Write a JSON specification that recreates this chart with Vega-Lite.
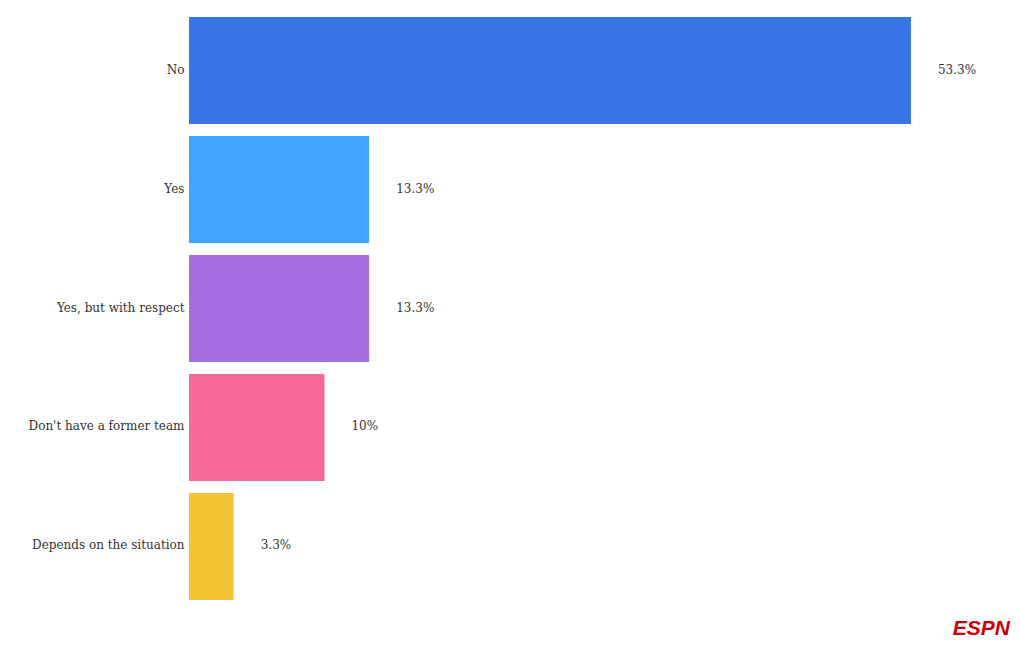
{
  "$schema": "https://vega.github.io/schema/vega-lite/v6.json",
  "autosize": "none",
  "width": 821,
  "height": 583,
  "padding": {"left": 189, "top": 17, "right": 10, "bottom": 50},
  "background": "white",
  "config": {"view": {"stroke": null}},
  "title": {
    "text": "ESPN",
    "orient": "bottom",
    "anchor": "end",
    "font": "Liberation Sans",
    "fontSize": 21,
    "fontWeight": "bold",
    "fontStyle": "italic",
    "color": "#cc0000",
    "offset": 18
  },
  "data": {
    "values": [
      {"answer": "No", "pct": 53.3, "label": "53.3%"},
      {"answer": "Yes", "pct": 13.3, "label": "13.3%"},
      {"answer": "Yes, but with respect", "pct": 13.3, "label": "13.3%"},
      {"answer": "Don't have a former team", "pct": 10, "label": "10%"},
      {"answer": "Depends on the situation", "pct": 3.3, "label": "3.3%"}
    ]
  },
  "encoding": {
    "y": {
      "field": "answer",
      "type": "nominal",
      "sort": null,
      "scale": {"paddingInner": 0.1, "paddingOuter": 0},
      "axis": {
        "title": null,
        "domain": false,
        "ticks": false,
        "labelPadding": 5,
        "labelFont": "DejaVu Serif",
        "labelFontSize": 12,
        "labelColor": "#333333",
        "labelOffset": -1
      }
    },
    "x": {
      "field": "pct",
      "type": "quantitative",
      "scale": {"domain": [0, 60.61], "nice": false, "zero": true},
      "axis": null
    }
  },
  "layer": [
    {
      "mark": {"type": "bar"},
      "encoding": {
        "color": {
          "field": "answer",
          "type": "nominal",
          "sort": null,
          "scale": {
            "domain": ["No", "Yes", "Yes, but with respect", "Don't have a former team", "Depends on the situation"],
            "range": ["#3875e4", "#41a4fe", "#a66ddf", "#f5699b", "#f4c333"]
          },
          "legend": null
        }
      }
    },
    {
      "mark": {"type": "text", "align": "left", "baseline": "middle", "dx": 27, "dy": -1, "font": "DejaVu Serif", "fontSize": 12, "color": "#333333"},
      "encoding": {"text": {"field": "label"}}
    }
  ]
}
